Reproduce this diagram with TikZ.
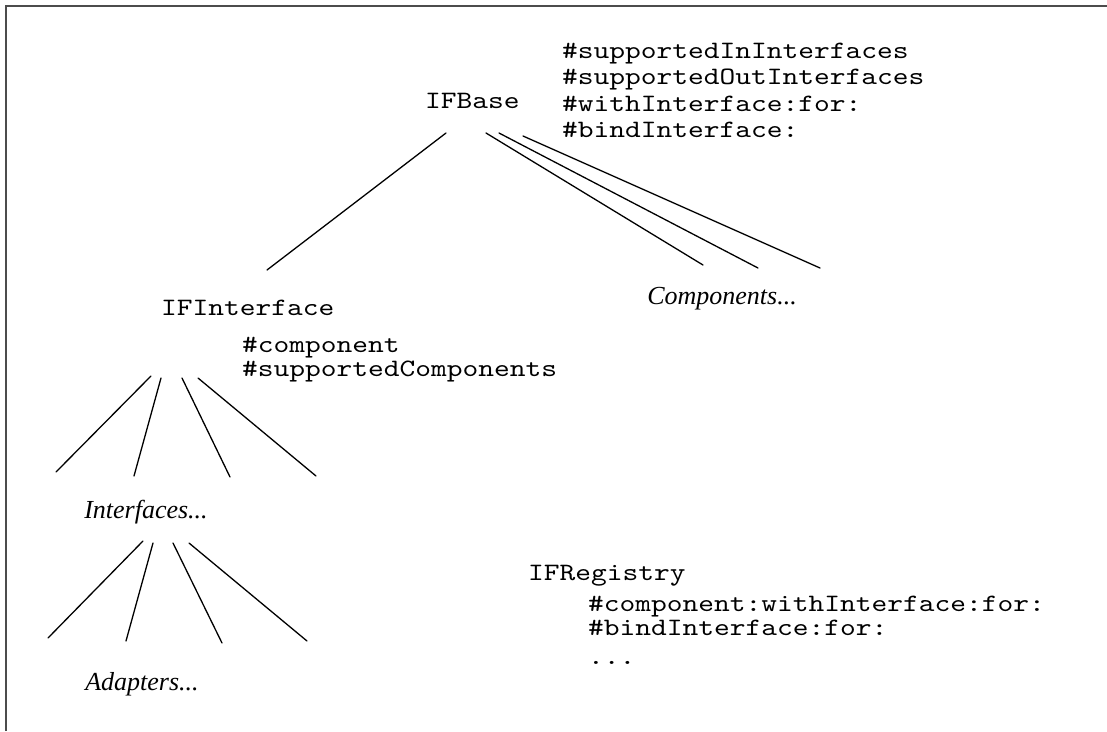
\documentclass[tikz,border=0pt]{standalone}
\usepackage{fontspec}
\setmainfont{Liberation Serif}
\setmonofont[FakeStretch=1.2]{lmmono10-regular.otf}
\begin{document}
\begin{tikzpicture}[x=1pt,y=-1pt,
  code/.style={anchor=base west, inner sep=0pt,
    font=\ttfamily\fontsize{25}{25}\selectfont},
  group/.style={anchor=base, inner sep=0pt, font=\itshape\fontsize{26}{26}\selectfont},
  link/.style={line width=1.3pt, line cap=round},
  frameline/.style={line width=2pt, draw=black!70}]
\useasboundingbox (0,0) rectangle (1107,731);
\draw[frameline] (5.5,731) -- (5.5,5.5) -- (1107,5.5);

% IFBase block
\node[code] (base) at (425,108) {IFBase};
\node[code] (m1) at (562,58) {\#supportedInInterfaces};
\node[code] (m2) at (562,84) {\#supportedOutInterfaces};
\node[code] (m3) at (562,111) {\#withInterface:for:};
\node[code] (m4) at (562,137) {\#bindInterface:};
\node[group] (comp) at (722,304) {Components...};

% IFInterface block
\node[code] (iface) at (161,315) {IFInterface};
\node[code] (c1) at (242,352) {\#component};
\node[code] (c2) at (242,376) {\#supportedComponents};
\node[group] (ifs) at (146,518) {Interfaces...};
\node[group] (ads) at (142,690) {Adapters...};

% IFRegistry block
\node[code] (reg) at (528,580) {IFRegistry};
\node[code] (r1) at (588,611) {\#component:withInterface:for:};
\node[code] (r2) at (588,635) {\#bindInterface:for:};
\node[code] (r3) at (588,664) {...};

% line ends
\coordinate (b1s) at (446,133); \coordinate (b1e) at (267,270);
\coordinate (b2s) at (486,133); \coordinate (b2e) at (703,265);
\coordinate (b3s) at (499,133); \coordinate (b3e) at (758,268);
\coordinate (b4s) at (523,136); \coordinate (b4e) at (820,268);

\coordinate (i1s) at (151,376); \coordinate (i1e) at (56,472);
\coordinate (i2s) at (161,378); \coordinate (i2e) at (134,476);
\coordinate (i3s) at (182,378); \coordinate (i3e) at (230,477);
\coordinate (i4s) at (198,378); \coordinate (i4e) at (316,476);

\coordinate (a1s) at (143,541); \coordinate (a1e) at (48,638);
\coordinate (a2s) at (153,543); \coordinate (a2e) at (126,641);
\coordinate (a3s) at (173,543); \coordinate (a3e) at (222,643);
\coordinate (a4s) at (189,543); \coordinate (a4e) at (307,641);

\foreach \p in {b1,b2,b3,b4,i1,i2,i3,i4,a1,a2,a3,a4}
  \draw[link] (\p s) -- (\p e);
\end{tikzpicture}
\end{document}
